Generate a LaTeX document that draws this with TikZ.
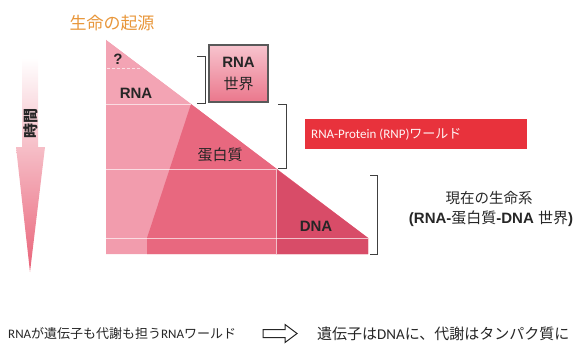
\documentclass[tikz,border=0pt]{standalone}
\usepackage{fontspec}
\setmainfont{Noto Sans CJK JP}
\newfontfamily\arb{Liberation Sans}
\newfontfamily\calf{Carlito}
\begin{document}
\begin{tikzpicture}[x=1pt,y=-1pt,
  lbl/.style={inner sep=0pt,font=\fontsize{15}{17}\selectfont,text=black!85},
  blbl/.style={inner sep=0pt,font=\fontsize{15}{17}\selectfont\arb\bfseries,text=black!85},
  brk/.style={draw=black!75,line width=0.8pt},
  sep/.style={draw=white,opacity=0.65,line width=0.7pt}]
\definecolor{lightp}{HTML}{F29CAD}
\definecolor{medp}{HTML}{E8687F}
\definecolor{darkp}{HTML}{D84C68}
\definecolor{redbar}{HTML}{E8323C}
\definecolor{orng}{HTML}{E8963A}
\useasboundingbox (0,0) rectangle (579,345);
% title
\node[inner sep=0pt,text=orng,font=\fontsize{17}{19}\selectfont] (title) at (112,23) {生命の起源};
% time arrow
\shade[top color=white,bottom color=medp!95!red] (22,58) -- (38,58) -- (38,147) -- (45,147) -- (30,272) -- (16,147) -- (22,147) -- cycle;
\node[inner sep=0pt,rotate=90,font=\fontsize{15}{17}\selectfont\bfseries,text=black!85] (time) at (31,124) {時間};
% triangle regions
\fill[lightp] (106,40) -- (368,238) -- (368,254) -- (106,254) -- cycle;
\fill[lightp!92!white] (106,40) -- (191,104) -- (106,104) -- cycle;
\fill[medp] (191,104) -- (368,238) -- (368,254) -- (147,254) -- (147,238) -- cycle;
\fill[darkp] (276,169) -- (368,238) -- (368,254) -- (276,254) -- cycle;
\draw[sep] (106,104) -- (191,104);
\draw[sep] (106,169) -- (276,169);
\draw[sep] (106,238) -- (368,238);
\draw[sep] (276,169) -- (276,254);
\draw[sep,dashed,dash pattern=on 3pt off 2pt] (107,68) -- (142,68);
% labels in triangle
\node[blbl,font=\fontsize{15}{17}\selectfont\arb\bfseries] (q) at (118,59) {?};
\node[blbl] (rna) at (136,93) {RNA};
\node[lbl] (prot) at (220,155) {蛋白質};
\node[blbl] (dna) at (316,226) {DNA};
% RNA world box
\shade[top color=lightp!60!white,bottom color=medp!90!white,draw=black!65,line width=1.2pt] (209,45) rectangle (268,102);
\node[blbl] (boxr) at (238.5,62) {RNA};
\node[lbl] (boxw) at (238.5,84) {世界};
% brackets
\draw[brk] (197,56) -- (205,56) -- (205,103) -- (197,103);
\draw[brk] (278,104) -- (286,104) -- (286,168) -- (278,168);
\draw[brk] (370,175) -- (377,175) -- (377,254) -- (370,254);
% RNP bar
\fill[redbar] (305,119) rectangle (527,149);
\node[anchor=west,inner sep=0pt,text=white!85!pink,font=\fontsize{13}{15}\selectfont] (rnp) at (311,134) {{\calf RNA-Protein (RNP)}ワールド};
% present system
\node[lbl,font=\fontsize{14.5}{16}\selectfont] (now1) at (489,198) {現在の生命系};
\node[lbl,font=\fontsize{15}{17}\selectfont] (now2) at (491,219) {{\arb\bfseries (RNA-}蛋白質{\arb\bfseries -DNA }世界{\arb\bfseries )}};
% bottom
\node[anchor=west,inner sep=0pt,font=\fontsize{13}{15}\selectfont,text=black!85] (bl) at (8,334) {{\calf RNA}が遺伝子も代謝も担う{\calf RNA}ワールド};
\draw[black!85,line width=1pt] (263,329.5) -- (285,329.5) -- (285,324.5) -- (297,333.5) -- (285,342.5) -- (285,337.5) -- (263,337.5) -- cycle;
\node[anchor=west,inner sep=0pt,font=\fontsize{15}{17}\selectfont,text=black!85] (br) at (317,334) {遺伝子は{\calf DNA}に、代謝はタンパク質に};
\end{tikzpicture}
\end{document}
